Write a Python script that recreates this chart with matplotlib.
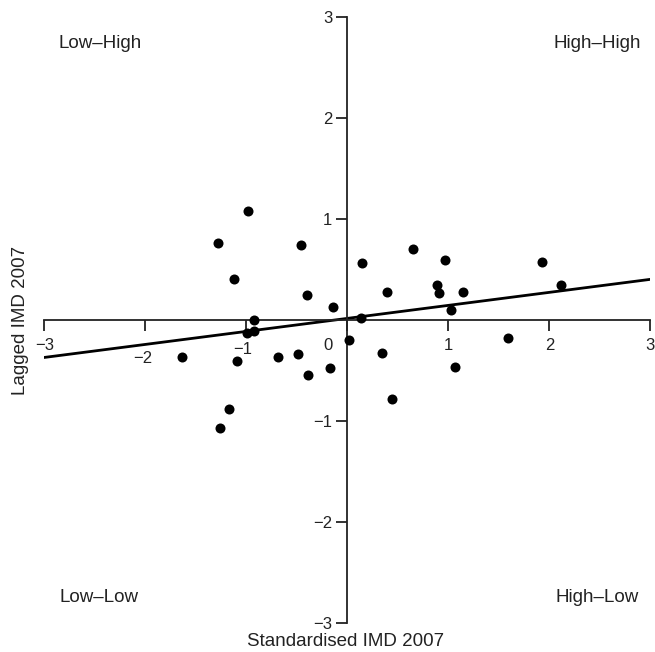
import matplotlib
matplotlib.use("Agg")
import matplotlib.pyplot as plt
import matplotlib.transforms as mtransforms
import numpy as np

plt.rcParams['font.family'] = ['Liberation Sans', 'DejaVu Sans']

# standardised IMD score and its spatial lag, one pair per area
imd_std = [-0.984, -1.278, -0.464, -1.123, 0.141, -0.399, -0.147, -0.928, 0.134,
           -0.990, -0.928, 0.018, -1.635, -1.093, -0.683, -0.488, -0.385, -0.177,
           -1.172, -1.265, 0.653, 0.967, 1.930, 2.115, 0.885, 0.905, 1.149, 0.392,
           1.030, 0.339, 1.595, 1.066, 0.441]
imd_lag = [1.080, 0.766, 0.740, 0.403, 0.565, 0.251, 0.129, 0.000, 0.015,
           -0.126, -0.112, -0.195, -0.364, -0.410, -0.364, -0.340, -0.548, -0.479,
           -0.882, -1.067, 0.707, 0.595, 0.572, 0.347, 0.344, 0.271, 0.274, 0.281,
           0.102, -0.330, -0.181, -0.463, -0.780]

# fitted line (Moran's I slope)
fit_intercept = 0.016
fit_slope = 0.129

ticks = [-3, -2, -1, 0, 1, 2, 3]
quadrants = ["Low\u2013High", "High\u2013High", "Low\u2013Low", "High\u2013Low"]

ink = '#222222'

fig = plt.figure(figsize=(6.55, 6.52), dpi=100)
ax = fig.add_axes([0.0677, 0.0449, 0.9253, 0.9286])

ax.scatter(imd_std, imd_lag, s=52, color='black', zorder=3, linewidths=0)
xs = np.array([-3, 3])
ax.plot(xs, fit_intercept + fit_slope * xs, color='black', lw=2, zorder=2)

ax.set_xlim(-3, 3)
ax.set_ylim(-3, 3)
for side in ['top', 'right']:
    ax.spines[side].set_visible(False)
ax.spines['left'].set_position(('data', 0))
ax.spines['bottom'].set_position(('data', 0))
for side in ['left', 'bottom']:
    ax.spines[side].set_linewidth(1.3)
    ax.spines[side].set_color(ink)

ax.set_xticks(ticks)
ax.set_xticklabels([str(t).replace('-', '\u2212') for t in ticks])
yt = [t for t in ticks if t != 0]
ax.set_yticks(yt)
ax.set_yticklabels([str(t).replace('-', '\u2212') for t in yt])
ax.tick_params(axis='both', direction='out', length=8, width=1.3,
               color=ink, labelsize=12, labelcolor=ink, pad=3)
ax.tick_params(axis='x', pad=5)

# nudge x labels that would sit on the fit line or the vertical axis (inches)
nudges = {'\u22122': (-0.03, -0.13), '\u22121': (-0.04, -0.04), '0': (-0.19, 0)}
for lbl in ax.get_xticklabels():
    if lbl.get_text() in nudges:
        dx, dy = nudges[lbl.get_text()]
        off = mtransforms.ScaledTranslation(dx, dy, fig.dpi_scale_trans)
        lbl.set_transform(lbl.get_transform() + off)

# quadrant names
qpos = [(100, 43), (597, 43), (99, 598), (597, 598)]
for name, (px, py) in zip(quadrants, qpos):
    fig.text(px / 655, 1 - py / 652, name, ha='center', va='center',
             fontsize=13.5, color=ink)

fig.text(346 / 655, 1 - 641 / 652, "Standardised IMD 2007", ha='center', va='center',
         fontsize=13.5, color=ink)
fig.text(21 / 655, 1 - 320 / 652, "Lagged IMD 2007", ha='center', va='center',
         rotation=90, fontsize=13.5, color=ink)

fig.savefig("out.png", dpi=100)
